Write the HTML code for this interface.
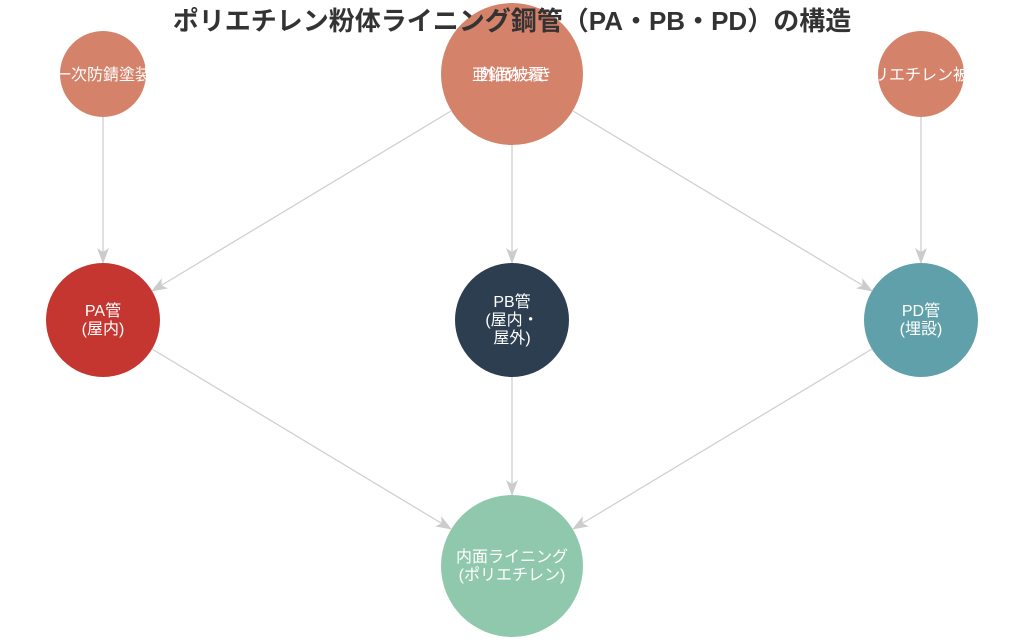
<!DOCTYPE html>
<html><head><meta charset="utf-8"><style>
html,body{margin:0;padding:0;background:#fff;}
svg{display:block;}
text{font-family:"Liberation Sans","Noto Sans CJK JP",sans-serif;}
</style></head><body>
<svg width="1024" height="640" viewBox="0 0 1024 640" xmlns="http://www.w3.org/2000/svg">
<defs>
<marker id="a" viewBox="0 0 16 12" refX="15" refY="6" markerWidth="16" markerHeight="12" markerUnits="userSpaceOnUse" orient="auto">
<path d="M0,0 L16,6 L0,12 L4,6 Z" fill="#cccccc"/>
</marker>
</defs>
<g stroke="#d0d0d0" stroke-width="1.3" fill="none" marker-end="url(#a)">
<line x1="103" y1="117" x2="103" y2="263"/>
<line x1="921" y1="117" x2="921" y2="263"/>
<line x1="512" y1="145" x2="512" y2="263"/>
<line x1="451" y1="111" x2="152" y2="291"/>
<line x1="573" y1="111" x2="872" y2="291"/>
<line x1="152" y1="349" x2="451" y2="529"/>
<line x1="872" y1="349" x2="573" y2="529"/>
<line x1="512" y1="377" x2="512" y2="495"/>
</g>
<circle cx="103" cy="74" r="43" fill="#d4826a"/>
<circle cx="512" cy="74" r="71" fill="#d4826a"/>
<circle cx="921" cy="74" r="43" fill="#d4826a"/>
<circle cx="103" cy="320" r="57" fill="#c4362f"/>
<circle cx="512" cy="320" r="57" fill="#2c3e50"/>
<circle cx="921" cy="320" r="57" fill="#5fa0aa"/>
<circle cx="512" cy="566" r="71" fill="#90c8ad"/>
<g fill="#fff" font-size="16" text-anchor="middle">
<text x="103" y="80">一次防錆塗装</text>
<text x="921" y="80">ポリエチレン被覆</text>
<text x="512" y="80">亜鉛めっき</text>
<text x="512" y="80">外面被覆</text>
<text x="103" y="316">PA管</text>
<text x="103" y="334">(屋内)</text>
<text x="512" y="307">PB管</text>
<text x="512" y="325">(屋内・</text>
<text x="512" y="343">屋外)</text>
<text x="921" y="316">PD管</text>
<text x="921" y="334">(埋設)</text>
<text x="512" y="562">内面ライニング</text>
<text x="512" y="580">(ポリエチレン)</text>
</g>
<text x="512" y="30" text-anchor="middle" font-size="26" font-weight="bold" fill="#333">ポリエチレン粉体ライニング鋼管（PA・PB・PD）の構造</text>
</svg>
</body></html>
